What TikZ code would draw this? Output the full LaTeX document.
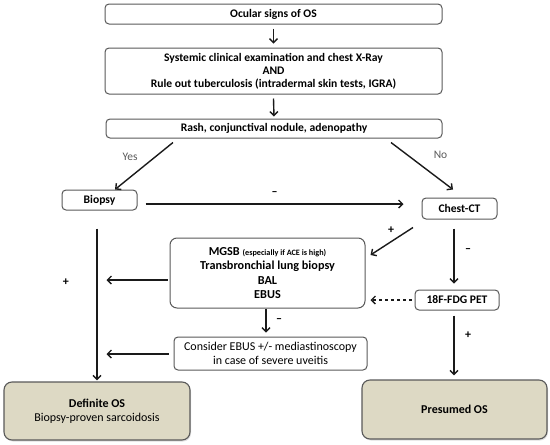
\documentclass[tikz,border=0pt]{standalone}
\usepackage{fontspec}
\setmainfont{Carlito}
\setsansfont{Carlito}
\usetikzlibrary{arrows.meta, positioning, calc, shadows}
\definecolor{cgrey}{HTML}{595959}
\definecolor{ctan}{HTML}{DDD9C4}
\definecolor{cline}{HTML}{1A1A1A}
\tikzset{
  every picture/.style={font=\sffamily, line width=1pt},
  box/.style={draw=cgrey, fill=white, rounded corners=4pt, align=center, inner sep=1pt, font=\sffamily\bfseries\fontsize{11.6}{13}\selectfont},
  endbox/.style={box, fill=ctan, rounded corners=8pt, draw=cgrey, line width=1.1pt, drop shadow={shadow xshift=1pt, shadow yshift=-1.5pt, opacity=0.25}},
  arrow/.style={-{Straight Barb[length=4pt, width=8pt]}, draw=cline, line width=1.4pt},
  sign/.style={font=\sffamily\bfseries\fontsize{12}{14}\selectfont},
  note/.style={font=\sffamily\fontsize{11.5}{13}\selectfont, text=cgrey},
}

\begin{document}
\begin{tikzpicture}[x=1pt, y=-1pt]
  \useasboundingbox (0,0) rectangle (550,445);

  % main column
  \node[box, minimum width=337pt, minimum height=20pt] (ocular) at (273.5,14) {Ocular signs of OS};
  \node[box, minimum width=337pt, minimum height=46pt] (exam) at (273.5,71) {Systemic clinical examination and chest X-Ray\\ AND\\ Rule out tuberculosis (intradermal skin tests, IGRA)};
  \node[box, minimum width=336pt, minimum height=19pt] (rash) at (274,128.5) {Rash, conjunctival nodule, adenopathy};

  \node[box, minimum width=75pt, minimum height=20pt] (biopsy) at (99.5,200) {Biopsy};
  \node[box, minimum width=75pt, minimum height=21pt] (chestct) at (459.5,208.5) {Chest-CT};

  \node[box, minimum width=195pt, minimum height=70pt, rounded corners=7pt, font=\sffamily\bfseries\fontsize{12.2}{14.5}\selectfont] (mgsb) at (267.5,273) {MGSB {\fontsize{8.2}{9}\selectfont (especially if ACE is high)}\\ Transbronchial lung biopsy\\ BAL\\ EBUS};
  \node[box, minimum width=84pt, minimum height=20pt] (pet) at (457,300) {18F-FDG PET};
  \node[box, minimum width=193pt, minimum height=33pt, font=\sffamily\fontsize{12}{13.8}\selectfont] (consider) at (270.5,353.5) {Consider EBUS +/- mediastinoscopy\\ in case of severe uveitis};

  \node[endbox, minimum width=186pt, minimum height=58pt, font=\sffamily\fontsize{12}{14}\selectfont] (definite) at (97,411) {\textbf{Definite OS}\\ Biopsy-proven sarcoidosis};
  \node[endbox, minimum width=185pt, minimum height=59pt, font=\sffamily\bfseries\fontsize{12}{14}\selectfont] (presumed) at (454.5,409.5) {Presumed OS};

  % connectors
  \draw[arrow] ($(ocular.south)+(0,4)$) -- ($(exam.north)+(0,-4)$);
  \draw[arrow] ($(exam.south)+(0,4)$) -- ($(rash.north)+(0,-2)$);
  \draw[arrow] ($(rash.south)+(-101,4)$) -- ($(biopsy.north)+(15.5,0)$) node[note, pos=0.3, left=14pt] (yes) {Yes};
  \draw[arrow] ($(rash.south)+(117,4)$) -- ($(chestct.north)+(-6.5,-8)$) node[note, pos=0.27, right=22pt] (no) {No};
  \draw[arrow] ($(biopsy.east)+(8,4)$) -- ($(chestct.west)+(-18,-4.5)$) node[sign, midway, above=4pt] (m1) {--};
  \draw[arrow] ($(chestct.south)+(-46.5,8)$) -- ($(mgsb.east)+(5,-18)$) node[sign, pos=0.35, above left=0pt] (p1) {+};
  \draw[arrow] ($(chestct.south)+(-5.5,9)$) -- ($(pet.north)+(-3,-6)$) node[sign, pos=0.4, right=7pt] (m2) {--};
  \draw[arrow, dashed] ($(pet.west)+(-3,0)$) -- ($(mgsb.east)+(5,27)$);
  \draw[arrow] ($(pet.south)+(-3,5)$) -- ($(presumed.north)+(-0.5,-4)$) node[sign, pos=0.33, right=7pt] (p2) {+};
  \draw[arrow] ($(mgsb.west)+(-2,7)$) -- ($(mgsb.west)+(-63,7)$);
  \draw[arrow] ($(mgsb.south)+(-1.5,0)$) -- ($(consider.north)+(-4.5,-4)$) node[sign, midway, right=6pt] (m3) {--};
  \draw[arrow] ($(consider.west)+(-5,0.5)$) -- ($(consider.west)+(-67,0.5)$);
  \draw[arrow] ($(biopsy.south)+(-2.5,18)$) -- ($(definite.north)+(0,-1)$) node[sign, pos=0.35, left=24pt] (p3) {+};
\end{tikzpicture}
\end{document}
